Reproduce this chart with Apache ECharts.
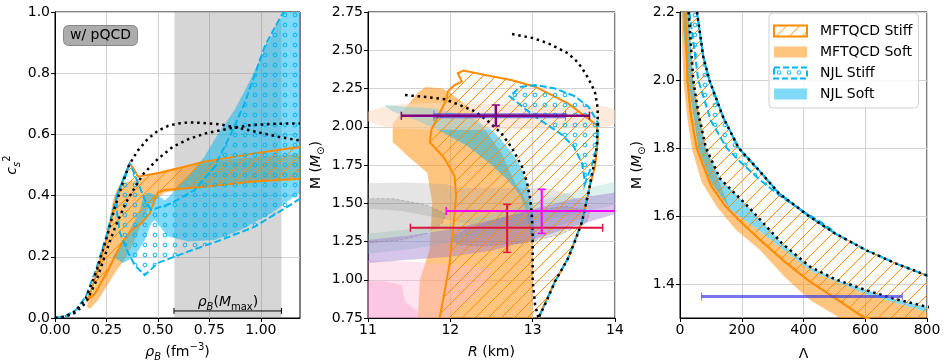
<!DOCTYPE html>
<html>
<head>
<meta charset="UTF-8">
<title>MFTQCD / NJL</title>
<script src="https://cdn.jsdelivr.net/npm/echarts@6.0.0/dist/echarts.min.js"></script>
<style>
    body { margin: 0; padding: 0; background: #fff; }
    #main { width: 947px; height: 363px; }
</style>
</head>
<body>
<div id="main"></div>
<script>
// ---------- panel 1 : c_s^2 vs rho_B ----------
var rhoTicks = [0, 0.25, 0.5, 0.75, 1.0];
var pqcdRange = [0.58, 1.10];
var mmaxBar = [0.84, 0.023, 0.578, 1.10];
var mmaxLabelAt = [0.84, 0.05];
var c2Dot1 = [[0,0],[0.05,0.005],[0.1,0.022],[0.15,0.065],[0.2,0.15],[0.25,0.26],[0.29,0.36],[0.323,0.43],[0.36,0.5],[0.4,0.545],[0.45,0.585],[0.5,0.612],[0.55,0.628],[0.6,0.636],[0.65,0.639],[0.7,0.638],[0.8,0.633],[0.9,0.62],[1.0,0.605],[1.1,0.59],[1.19,0.58]];
var c2Dot2 = [[0,0],[0.05,0.004],[0.1,0.018],[0.15,0.05],[0.2,0.12],[0.266,0.25],[0.3,0.31],[0.347,0.38],[0.4,0.44],[0.428,0.47],[0.5,0.52],[0.573,0.56],[0.65,0.585],[0.735,0.604],[0.85,0.62],[0.96,0.631],[1.08,0.635],[1.19,0.636]];
var c2NjlEdge = [[0,0],[0.05,0.006],[0.1,0.025],[0.15,0.07],[0.2,0.16],[0.25,0.27],[0.3,0.4],[0.33,0.45],[0.363,0.505]];
var c2QStiff = [[0.161,0.06],[0.2,0.14],[0.25,0.26],[0.29,0.37],[0.33,0.45],[0.363,0.505],[0.38,0.49],[0.404,0.462],[0.533,0.478],[0.726,0.511],[0.969,0.538],[1.25,0.565],
                [1.25,0.458],[0.969,0.446],[0.726,0.429],[0.533,0.418],[0.5,0.41],[0.484,0.386],[0.46,0.342],[0.42,0.31],[0.371,0.288],[0.323,0.244],[0.258,0.157],[0.194,0.08]];
var c2QSoft = [[0.153,0.037],[0.19,0.1],[0.23,0.2],[0.26,0.3],[0.28,0.38],[0.3,0.42],[0.323,0.44],[0.39,0.45],[0.533,0.484],[0.726,0.51],[0.969,0.525],[1.25,0.54],
               [1.25,0.455],[0.969,0.445],[0.726,0.43],[0.533,0.41],[0.46,0.37],[0.42,0.31],[0.387,0.255],[0.347,0.2],[0.29,0.146],[0.21,0.059],[0.17,0.03]];
var c2NjlSoft = [[0.28,0.2],[0.33,0.25],[0.355,0.277],[0.39,0.32],[0.412,0.353],[0.43,0.4],[0.452,0.41],[0.5,0.4],[0.533,0.385],[0.56,0.4],[0.581,0.418],[0.646,0.462],[0.726,0.527],[0.79,0.6],[0.872,0.68],[0.95,0.78],[1.02,0.88],[1.1,0.98],[1.12,1.1],[1.25,1.1],
                 [1.25,0.43],[1.19,0.41],[1.05,0.342],[0.904,0.288],[0.775,0.255],[0.646,0.25],[0.549,0.266],[0.484,0.32],[0.468,0.31],[0.436,0.255],[0.387,0.2],[0.33,0.18]];
var c2NjlStiff = [[0.363,0.505],[0.33,0.45],[0.3,0.4],[0.3,0.35],[0.315,0.28],[0.35,0.22],[0.39,0.17],[0.436,0.14],[0.5,0.18],[0.646,0.217],[0.807,0.255],[0.969,0.298],[1.13,0.364],[1.19,0.39],[1.25,0.42],[1.25,1.1],[1.15,1.1],
                  [1.106,0.996],[1.02,0.89],[0.92,0.7],[0.856,0.604],[0.775,0.494],[0.678,0.418],[0.565,0.375],[0.468,0.353],[0.44,0.38],[0.41,0.43],[0.38,0.48]];

// ---------- panel 2 : M vs R ----------
var mrPeach = [[10.9,2.07],[11.2,2.0],[11.5,1.985],[12,1.98],[12.5,1.98],[13,1.985],[13.5,1.99],[13.9,2.0],[14.1,2.06],[13.9,2.13],[13.5,2.14],[13,2.145],[12.5,2.15],[12,2.155],[11.5,2.15],[11.2,2.13]];
var mrGrayLight = [[10.8,1.63],[11.5,1.635],[11.95,1.625],[12.1,1.6],[12.6,1.6],[13.15,1.6],[13.45,1.56],[13.65,1.48],[13.6,1.4],[13.3,1.35],[12.8,1.34],[12.3,1.35],[12.2,1.37],[11.8,1.41],[11.4,1.45],[10.8,1.47]];
var mrGrayLeft = [[10.8,1.53],[11.3,1.53],[11.7,1.49],[11.95,1.43],[11.9,1.37],[11.7,1.3],[11.4,1.26],[11,1.24],[10.8,1.24]];
var mrGrayRight = [[12.0,1.27],[12.2,1.33],[12.6,1.4],[13.0,1.45],[13.4,1.48],[13.7,1.45],[13.65,1.37],[13.3,1.29],[12.9,1.24],[12.4,1.22],[12.1,1.23]];
var mrPurple = [[10.8,1.25],[11,1.26],[11.5,1.29],[12,1.33],[12.5,1.39],[13,1.46],[13.5,1.53],[14,1.57],[14.2,1.58],
                [14.2,1.43],[14,1.43],[13.5,1.35],[13,1.26],[12.5,1.19],[12,1.15],[11.5,1.13],[11,1.11],[10.8,1.1]];
var mrTeal = [[11,1.3],[11.5,1.33],[12,1.37],[12.5,1.43],[13,1.5],[13.5,1.58],[14,1.64],[14.2,1.65],
              [14.2,1.5],[14,1.49],[13.5,1.43],[13,1.37],[12.5,1.3],[12,1.24],[11.5,1.2],[11,1.17]];
var mrPinkLight = [[10.8,1.13],[11.5,1.12],[12.0,1.1],[12.5,1.075],[12.45,0.98],[12.3,0.88],[12.05,0.8],[11.95,0.7],[10.8,0.7]];
var mrPinkDark = [[10.8,0.99],[11.2,0.99],[11.41,0.966],[11.45,0.857],[11.61,0.79],[11.65,0.7],[10.8,0.7]];
var mrQSoft = [[11.6,0.7],[11.63,1.0],[11.75,1.2],[11.78,1.5],[11.72,1.7],[11.5,1.8],[11.3,1.9],[11.3,2.02],[11.45,2.12],[11.6,2.22],[11.7,2.26],[11.9,2.25],[12.0,2.22],[12.22,2.13],[12.42,1.98],[12.62,1.83],[12.78,1.64],[12.95,1.49],[13.0,1.31],[13.0,0.7]];
var mrQStiff = [[11.87,0.7],[11.87,0.75],[11.93,0.92],[11.99,1.1],[12.03,1.31],[12.07,1.55],[12.05,1.68],[11.92,1.8],[11.75,1.9],[11.77,1.98],[11.95,2.175],[11.97,2.23],[12.05,2.273],[12.14,2.295],[12.09,2.35],[12.16,2.367],[12.42,2.338],[12.74,2.306],[13.03,2.262],[13.43,2.153],[13.78,2.01],[13.79,1.9],[13.76,1.75],[13.68,1.576],[13.6,1.38],[13.43,1.14],[13.27,0.987],[13.07,0.75],[13.03,0.7]];
var mrNjlSoft = [[11.2,2.14],[11.8,2.12],[12.22,2.07],[12.5,1.98],[12.62,1.913],[12.78,1.805],[12.87,1.717],[12.95,1.6],[13.0,1.45],[13.03,1.3],[13.02,1.24],
                 [12.97,1.3],[12.92,1.45],[12.85,1.55],[12.7,1.65],[12.5,1.75],[12.22,1.87],[11.85,1.98],[11.6,2.04],[11.3,2.1]];
var mrNjlStiff = [[13.63,1.62],[13.72,1.75],[13.78,1.87],[13.8,2.02],[13.68,2.13],[13.51,2.2],[13.27,2.25],[13.03,2.273],[12.85,2.26],[12.72,2.2],
                  [12.9,2.12],[13.1,2.04],[13.35,1.95],[13.5,1.87],[13.6,1.76],[13.63,1.66]];
var mrNjlEdge = [[13.04,0.7],[13.07,0.75],[13.27,0.987],[13.43,1.14],[13.6,1.38],[13.68,1.576],[13.72,1.7]];
var mrDot1 = [[11.45,2.207],[11.7,2.195],[11.93,2.18],[12.1,2.145],[12.3,2.1],[12.45,2.04],[12.62,1.957],[12.75,1.86],[12.87,1.74],[12.93,1.64],[12.97,1.53],[12.99,1.42],[13.0,1.31],[13.0,1.15],[13.0,0.99],[13.03,0.835],[13.07,0.75],[13.09,0.7]];
var mrDot2 = [[12.75,2.606],[13.0,2.58],[13.19,2.545],[13.43,2.48],[13.55,2.42],[13.64,2.35],[13.72,2.27],[13.76,2.218],[13.79,2.12],[13.79,2.044],[13.78,1.87],[13.74,1.74],[13.68,1.576],[13.6,1.38],[13.52,1.26],[13.43,1.14],[13.27,0.987],[13.16,0.85],[13.07,0.75],[13.03,0.7]];
// error bars: [x, y, xlo, xhi, ylo, yhi]
var barPurple = [12.553, 2.072, 11.405, 13.69, 2.005, 2.142];
var barBlue = [12.6, 2.072, 11.80, 13.40];
var barCrimson = [12.69, 1.340, 11.515, 13.85, 1.179, 1.493];
var barMagenta = [13.11, 1.449, 11.95, 14.02, 1.303, 1.591];

// ---------- panel 3 : M vs Lambda ----------
var lamTicksY = [1.4, 1.6, 1.8, 2.0, 2.2];
var lamD2 = [[55,2.2],[75,2.07],[95,2.0],[140,1.89],[190,1.8],[260,1.73],[320,1.667],[420,1.598],[500,1.55],[602,1.5],[700,1.46],[800,1.425],[850,1.41]];
var lamI1 = [[30,2.2],[45,2.1],[59,2.0],[100,1.88],[151,1.8],[200,1.755],[259,1.706],[330,1.655],[400,1.613],[460,1.58],[500,1.553]];
var lamD1 = [[28,2.2],[43,2.0],[60,1.9],[84,1.8],[130,1.71],[221,1.627],[259,1.59],[330,1.52],[421,1.451],[500,1.415],[602,1.382],[700,1.355],[800,1.333],[850,1.325]];
var lamB1 = [[10,2.15],[27,2.0],[59,1.8],[100,1.7],[162,1.62],[259,1.555],[421,1.44],[602,1.37],[800,1.318],[850,1.31]];
var lamL1 = [[4,2.2],[11,2.0],[22,1.9],[38,1.8],[70,1.7],[119,1.627],[180,1.56],[259,1.5],[340,1.42],[421,1.353],[518,1.3],[600,1.26]];
var lamS1 = [[17,2.2],[24,2.0],[35,1.9],[54,1.8],[100,1.69],[146,1.63],[200,1.58],[259,1.53],[340,1.465],[421,1.407],[500,1.36],[583,1.309],[650,1.28]];
var lamSoftTop = [[28,2.2],[43,2.0],[84,1.8],[162,1.62],[259,1.555],[421,1.44],[602,1.37],[800,1.318],[850,1.31]];
var barLambda = [395, 1.363, 70, 720];

var ORANGE = '#ff8c00';
var SKY = '#00b4f0';
var FONT = 'DejaVu Sans';

function rev(a) { return a.slice().reverse(); }

function hatchPattern(color, step) {
    var c = document.createElement('canvas');
    c.width = step; c.height = step;
    var g = c.getContext('2d');
    g.strokeStyle = color; g.lineWidth = 1;
    g.beginPath();
    g.moveTo(0, step); g.lineTo(step, 0);
    g.stroke();
    return {image: c, repeat: 'repeat'};
}
function ringPattern(color, step, r) {
    var c = document.createElement('canvas');
    c.width = step; c.height = step;
    var g = c.getContext('2d');
    g.strokeStyle = color; g.lineWidth = 1;
    g.beginPath();
    g.arc(step / 2, step / 2, r, 0, Math.PI * 2);
    g.stroke();
    return {image: c, repeat: 'repeat'};
}
var hatch = hatchPattern(ORANGE, 13);
var rings = ringPattern(SKY, 10, 1.9);

var softOrange = 'rgba(255,140,0,0.5)';
var softBlue = 'rgba(0,180,240,0.5)';
var stiffQStyle = {fill: hatch, stroke: ORANGE, lineWidth: 2};
var stiffNStyle = {fill: rings, stroke: SKY, lineWidth: 2, lineDash: [7, 3]};
var dotStyle = {color: '#000', width: 2.5, type: [2.5, 3.8]};
var dashStyle = {color: SKY, width: 2, type: [7, 3]};

function poly(name, gi, pts, style, z) {
    return {
        type: 'custom', name: name, xAxisIndex: gi, yAxisIndex: gi,
        clip: true, silent: true, z: z, data: pts,
        renderItem: function (params, api) {
            if (params.context.rendered) return;
            params.context.rendered = true;
            var p = pts.map(function (d) { return api.coord(d); });
            return {type: 'polygon', shape: {points: p, smooth: style.smooth || 0}, style: style};
        }
    };
}
function line(gi, pts, style, z) {
    return {
        type: 'line', xAxisIndex: gi, yAxisIndex: gi, data: pts, symbol: 'none',
        lineStyle: style, clip: true, silent: true, z: z
    };
}
function errBar(gi, row, color, width, cap, capWidth, z) {
    return {
        type: 'custom', xAxisIndex: gi, yAxisIndex: gi, clip: true, silent: true, z: z,
        data: [row.slice(0, 2)],
        renderItem: function (params, api) {
            var l = api.coord([row[2], row[1]]), r = api.coord([row[3], row[1]]);
            var ls = {stroke: color, lineWidth: width};
            var cs = {stroke: color, lineWidth: capWidth};
            var ch = [
                {type: 'line', shape: {x1: l[0], y1: l[1], x2: r[0], y2: r[1]}, style: ls},
                {type: 'line', shape: {x1: l[0], y1: l[1] - cap, x2: l[0], y2: l[1] + cap}, style: cs},
                {type: 'line', shape: {x1: r[0], y1: r[1] - cap, x2: r[0], y2: r[1] + cap}, style: cs}
            ];
            if (row.length > 4) {
                var b = api.coord([row[0], row[4]]), t = api.coord([row[0], row[5]]);
                ch.push({type: 'line', shape: {x1: b[0], y1: b[1], x2: t[0], y2: t[1]}, style: ls});
                ch.push({type: 'line', shape: {x1: b[0] - cap, y1: b[1], x2: b[0] + cap, y2: b[1]}, style: cs});
                ch.push({type: 'line', shape: {x1: t[0] - cap, y1: t[1], x2: t[0] + cap, y2: t[1]}, style: cs});
            }
            return {type: 'group', children: ch};
        }
    };
}

var nameRich = {
    n: {fontSize: 14, fontFamily: FONT, color: '#000', lineHeight: 20},
    i: {fontSize: 14, fontFamily: FONT, fontStyle: 'italic', color: '#000', lineHeight: 20},
    sub: {fontSize: 10, fontFamily: FONT, color: '#000', lineHeight: 9, verticalAlign: 'bottom'},
    si: {fontSize: 10, fontFamily: FONT, fontStyle: 'italic', color: '#000', lineHeight: 9, verticalAlign: 'bottom'},
    sup: {fontSize: 10, fontFamily: FONT, color: '#000', lineHeight: 9, verticalAlign: 'top'}
};
var labelStyle = {color: '#000', fontSize: 14, fontFamily: FONT};

function axis(gi, min, max, extra) {
    var a = {
        gridIndex: gi, type: 'value', min: min, max: max,
        axisLine: {show: true, onZero: false, lineStyle: {color: '#000', width: 1}},
        axisTick: {show: true, length: 4, lineStyle: {color: '#000'}},
        axisLabel: Object.assign({margin: 5, showMinLabel: true, showMaxLabel: true}, labelStyle),
        splitLine: {show: true, lineStyle: {color: '#d2d2d2', width: 1}},
        nameLocation: 'middle',
        nameTextStyle: {rich: nameRich}
    };
    for (var k in extra) {
        if (typeof extra[k] === 'object' && a[k] && !Array.isArray(extra[k])) Object.assign(a[k], extra[k]);
        else a[k] = extra[k];
    }
    return a;
}

var gridBase = {show: true, borderColor: '#000', borderWidth: 1, backgroundColor: 'transparent', top: 12, height: 306, containLabel: false, outerBoundsMode: 'none'};

var option = {
    animation: false,
    backgroundColor: '#fff',
    title: {
        text: 'w/ pQCD', left: 63, top: 25, padding: [2, 7],
        backgroundColor: 'rgba(128,128,128,0.65)', borderColor: '#888', borderWidth: 1, borderRadius: 5,
        textStyle: {fontSize: 14, fontWeight: 'normal', color: '#000', fontFamily: FONT, lineHeight: 17}
    },
    legend: {
        orient: 'vertical', left: 769, top: 13, padding: [10, 6, 6, 4],
        itemWidth: 33, itemHeight: 11, itemGap: 5, selectedMode: false,
        backgroundColor: 'rgba(255,255,255,0.85)', borderColor: '#d0d0d0', borderWidth: 1, borderRadius: 4,
        textStyle: {fontSize: 14, fontFamily: FONT, color: '#000', lineHeight: 16, padding: [0, 0, 0, 8]},
        data: [
            {name: 'MFTQCD Stiff', icon: 'rect', itemStyle: {color: hatch, borderColor: ORANGE, borderWidth: 2}},
            {name: 'MFTQCD Soft', icon: 'rect', itemStyle: {color: softOrange, borderWidth: 0}},
            {name: 'NJL Stiff', icon: 'rect', itemStyle: {color: rings, borderColor: SKY, borderWidth: 2, borderType: [6, 3]}},
            {name: 'NJL Soft', icon: 'rect', itemStyle: {color: softBlue, borderWidth: 0}}
        ]
    },
    grid: [
        Object.assign({left: 55, width: 245}, gridBase),
        Object.assign({left: 368, width: 247}, gridBase),
        Object.assign({left: 680, width: 247}, gridBase)
    ],
    xAxis: [
        axis(0, 0, 1.19, {
            axisTick: {customValues: rhoTicks},
            axisLabel: {customValues: rhoTicks, formatter: function (v) { return v.toFixed(2); }},
            name: '{i|ρ}{si|B}{n| (fm}{sup|−3}{n|)}', nameGap: 24
        }),
        axis(1, 11, 14, {interval: 1, name: '{i|R}{n| (km)}', nameGap: 24}),
        axis(2, 0, 800, {interval: 200, name: '{n|Λ}', nameGap: 26})
    ],
    yAxis: [
        axis(0, 0, 1, {interval: 0.2, axisLabel: {formatter: function (v) { return v.toFixed(1); }}, name: '{i|c}{si|s}{sup|2}', nameGap: 33}),
        axis(1, 0.75, 2.75, {interval: 0.25, axisLabel: {formatter: function (v) { return v.toFixed(2); }}, name: '{n|M (}{i|M}{sub|⊙}{n|)}', nameGap: 42}),
        axis(2, 1.3, 2.2, {
            axisTick: {customValues: lamTicksY},
            axisLabel: {customValues: lamTicksY, formatter: function (v) { return v.toFixed(1); }},
            name: '{n|M (}{i|M}{sub|⊙}{n|)}', nameGap: 33
        })
    ],
    series: [
        // ----- panel 1 -----
        poly('', 0, [[pqcdRange[0], -0.1], [pqcdRange[1], -0.1], [pqcdRange[1], 1.1], [pqcdRange[0], 1.1]], {fill: 'rgba(128,128,128,0.32)'}, 1),
        poly('MFTQCD Soft', 0, c2QSoft, {fill: softOrange}, 2),
        poly('NJL Soft', 0, c2NjlSoft, {fill: softBlue}, 2),
        poly('MFTQCD Stiff', 0, c2QStiff, stiffQStyle, 4),
        poly('NJL Stiff', 0, c2NjlStiff, stiffNStyle, 4),
        line(0, c2NjlEdge, dashStyle, 5),
        line(0, c2Dot1, dotStyle, 6),
        line(0, c2Dot2, dotStyle, 6),
        errBar(0, mmaxBar, '#000', 1, 3, 1, 7),
        {
            type: 'custom', xAxisIndex: 0, yAxisIndex: 0, silent: true, z: 7, data: [mmaxLabelAt],
            renderItem: function (params, api) {
                var p = api.coord(mmaxLabelAt);
                return {type: 'text', x: p[0], y: p[1], style: {
                    text: '{i|ρ}{si|B}{n|(}{i|M}{sub|max}{n|)}', rich: nameRich,
                    align: 'center', verticalAlign: 'middle', fill: '#000'
                }};
            }
        },
        // ----- panel 2 -----
        poly('MFTQCD Soft', 1, mrQSoft, {fill: softOrange}, 2),
        poly('NJL Soft', 1, mrNjlSoft, {fill: softBlue}, 2),
        poly('', 1, mrPinkLight, {fill: 'rgba(255,185,215,0.4)'}, 3),
        poly('', 1, mrPinkDark, {fill: 'rgba(245,150,200,0.35)'}, 3),
        poly('', 1, mrPeach, {fill: 'rgba(250,218,192,0.55)', smooth: 0.3}, 3),
        poly('', 1, mrTeal, {fill: 'rgba(140,210,195,0.3)'}, 3),
        poly('', 1, mrGrayLight, {fill: 'rgba(150,150,150,0.25)'}, 3),
        poly('', 1, mrGrayLeft, {fill: 'rgba(120,120,120,0.25)', stroke: 'rgba(120,120,120,0.4)', lineWidth: 1, lineDash: [3, 2]}, 3),
        poly('', 1, mrGrayRight, {fill: 'rgba(120,120,120,0.25)', stroke: 'rgba(120,120,120,0.4)', lineWidth: 1, lineDash: [3, 2]}, 3),
        poly('', 1, mrPurple, {fill: 'rgba(150,110,200,0.4)'}, 3),
        poly('MFTQCD Stiff', 1, mrQStiff, stiffQStyle, 4),
        poly('NJL Stiff', 1, mrNjlStiff, stiffNStyle, 4),
        line(1, mrNjlEdge, dashStyle, 5),
        line(1, mrDot1, dotStyle, 6),
        line(1, mrDot2, dotStyle, 6),
        errBar(1, barBlue, 'rgba(60,60,230,0.65)', 5, 5, 1, 7),
        errBar(1, barPurple, '#800080', 2.5, 4, 1.5, 8),
        errBar(1, barCrimson, '#dc143c', 2, 4, 1.5, 8),
        errBar(1, barMagenta, '#ff00ff', 2, 4, 1.5, 8),
        // ----- panel 3 -----
        poly('MFTQCD Soft', 2, [[0, 2.3]].concat(lamL1, [[650, 1.2], [900, 1.2], [900, 1.3]], rev(lamSoftTop), [[25, 2.3]]), {fill: softOrange}, 2),
        poly('NJL Soft', 2, [[25, 2.3]].concat(lamD1, [[900, 1.32], [900, 1.3]], rev(lamB1), [[5, 2.3]]), {fill: softBlue}, 2),
        poly('MFTQCD Stiff', 2, [[12, 2.3]].concat(lamS1, [[700, 1.2], [900, 1.2], [900, 1.4]], rev(lamD2), [[45, 2.3]]), {fill: hatch, stroke: ORANGE, lineWidth: 1}, 4),
        poly('NJL Stiff', 2, [[45, 2.3]].concat(lamD2.filter(function (d) { return d[0] <= 500; }), rev(lamI1), [[20, 2.3]]), stiffNStyle, 4),
        line(2, lamS1, {color: ORANGE, width: 2.2}, 5),
        line(2, lamD2, dashStyle, 5),
        line(2, lamD1, dotStyle, 6),
        line(2, lamD2, dotStyle, 6),
        errBar(2, barLambda, 'rgba(60,60,230,0.7)', 3, 4, 1, 7)
    ]
};

var chart = echarts.init(document.getElementById('main'), null, {renderer: 'canvas'});
chart.setOption(option);
</script>
</body>
</html>
